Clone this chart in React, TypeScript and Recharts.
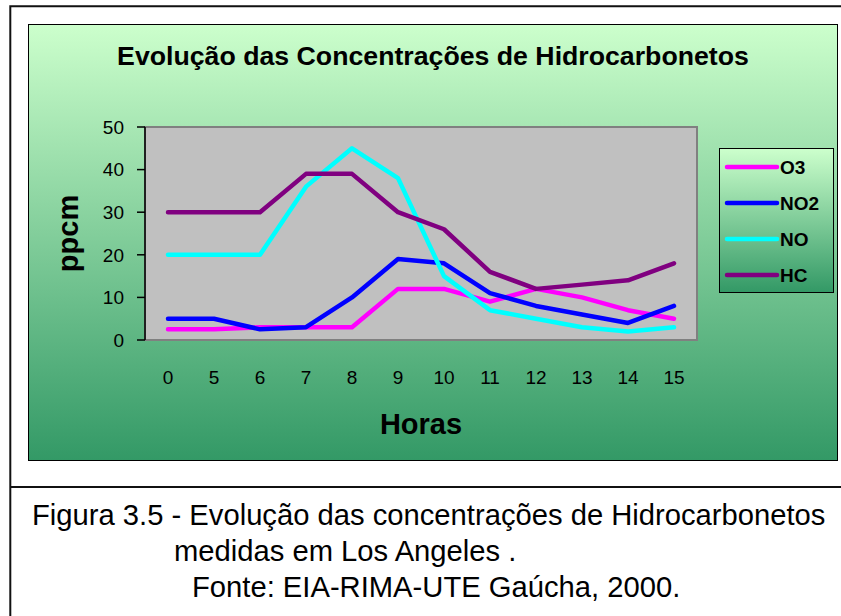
import React from 'react';
import { LineChart, Line, XAxis, YAxis, ReferenceArea, Legend, Label } from 'recharts';

const HOURS = ['0', '5', '6', '7', '8', '9', '10', '11', '12', '13', '14', '15'];
const O3 = [2.5, 2.5, 3, 3, 3, 12, 12, 9, 12, 10, 7, 5];
const NO2 = [5, 5, 2.5, 3, 10, 19, 18, 11, 8, 6, 4, 8];
const NO = [20, 20, 20, 36, 45, 38, 15, 7, 5, 3, 2, 3];
const HC = [30, 30, 30, 39, 39, 30, 26, 16, 12, 13, 14, 18];
const Y_TICKS = [0, 10, 20, 30, 40, 50];

const SERIES = [
  { name: 'O3', values: O3, color: '#FF00FF' },
  { name: 'NO2', values: NO2, color: '#0000FF' },
  { name: 'NO', values: NO, color: '#00FFFF' },
  { name: 'HC', values: HC, color: '#800080' },
];
const SERIES_NAMES = SERIES.map((s) => s.name);

const data = HOURS.map((h, i) => {
  const row: Record<string, number | string> = { pos: i + 0.5, hour: h };
  SERIES.forEach((s) => {
    row[s.name] = s.values[i];
  });
  return row;
});

const EDGE_TICKS = HOURS.map((_, i) => i).concat([HOURS.length]);
const CENTER_TICKS = HOURS.map((_, i) => i + 0.5);
const FONT = '"Liberation Sans", Arial, sans-serif';

const PpcmLabel = (props: any) => {
  const vb = props.viewBox || {};
  const x = (vb.x || 0) + 50;
  const y = (vb.y || 0) + (vb.height || 0) / 2;
  return (
    <text
      x={x}
      y={y}
      transform={`rotate(-90, ${x}, ${y})`}
      textAnchor="middle"
      fontSize={29}
      fontWeight="bold"
      fontFamily={FONT}
      fill="#000"
    >
      ppcm
    </text>
  );
};

const LegendBox = (props: any) => {
  const payload = [...(props.payload || [])].sort(
    (a: any, b: any) => SERIES_NAMES.indexOf(a.value) - SERIES_NAMES.indexOf(b.value)
  );
  return (
    <div
      style={{
        width: 115,
        height: 145,
        boxSizing: 'border-box',
        border: '1px solid #000',
        background: 'linear-gradient(#CCFFCC, #339966)',
        fontFamily: FONT,
      }}
    >
      {payload.map((p: any) => (
        <div key={p.value} style={{ display: 'flex', alignItems: 'center', height: 36 }}>
          <svg width={60} height={10} style={{ display: 'block' }}>
            <line x1={7} y1={5} x2={57} y2={5} stroke={p.color} strokeWidth={4.5} strokeLinecap="round" />
          </svg>
          <span style={{ fontSize: 19, fontWeight: 'bold', color: '#000', lineHeight: '19px' }}>{p.value}</span>
        </div>
      ))}
    </div>
  );
};

export default function App() {
  return (
    <div
      style={{
        position: 'absolute',
        left: 0,
        top: 0,
        width: 841,
        height: 616,
        overflow: 'hidden',
        background: '#fff',
        fontFamily: FONT,
      }}
    >
      <svg width={841} height={616} style={{ position: 'absolute', left: 0, top: 0 }}>
        <defs>
          <linearGradient id="bgGrad" x1="0" y1="0" x2="0" y2="1">
            <stop offset="0" stopColor="#CCFFCC" />
            <stop offset="1" stopColor="#339966" />
          </linearGradient>
        </defs>
        <rect x={0} y={0} width={841} height={616} fill="#fff" />
        <path d="M10.3 620 V6.3 H845" stroke="#111" strokeWidth={2} fill="none" />
        <line x1={10} y1={487} x2={845} y2={487} stroke="#111" strokeWidth={2} />
        <rect x={28.5} y={24.5} width={809} height={436} fill="url(#bgGrad)" stroke="#000" strokeWidth={1} />
        <text x={433} y={65} textAnchor="middle" fontSize={26.7} fontWeight="bold" fontFamily={FONT} fill="#000">
          Evolução das Concentrações de Hidrocarbonetos
        </text>
        <text x={32} y={525} fontSize={29.2} fontFamily={FONT} fill="#000">
          Figura 3.5 - Evolução das concentrações de Hidrocarbonetos
        </text>
        <text x={174} y={561} fontSize={29.2} fontFamily={FONT} fill="#000">
          medidas em Los Angeles .
        </text>
        <text x={192} y={597} fontSize={29.2} fontFamily={FONT} fill="#000">
          Fonte: EIA-RIMA-UTE Gaúcha, 2000.
        </text>
      </svg>
      <div style={{ position: 'absolute', left: 28, top: 24 }}>
        <LineChart width={810} height={437} data={data} margin={{ top: 103, right: 141, bottom: 0, left: 0 }}>
          <XAxis
            xAxisId="edges"
            dataKey="pos"
            type="number"
            domain={[0, 12]}
            ticks={EDGE_TICKS}
            interval={0}
            tickFormatter={() => ''}
            height={0}
            axisLine={{ stroke: '#000', strokeWidth: 1.5 }}
            tickLine={{ stroke: '#000', strokeWidth: 1.5 }}
            tickSize={7}
          />
          <XAxis
            xAxisId="hours"
            dataKey="pos"
            type="number"
            domain={[0, 12]}
            ticks={CENTER_TICKS}
            interval={0}
            tickFormatter={(v: number) => HOURS[Math.floor(v)]}
            height={121}
            axisLine={false}
            tickLine={false}
            tickSize={0}
            tickMargin={31}
            tick={{ fill: '#000', fontSize: 19, fontFamily: FONT }}
          >
            <Label
              value="Horas"
              position="insideBottom"
              offset={27}
              style={{ fontSize: 29, fontWeight: 'bold', fill: '#000', fontFamily: FONT }}
            />
          </XAxis>
          <YAxis
            type="number"
            domain={[0, 50]}
            ticks={Y_TICKS}
            interval={0}
            width={117}
            tickSize={8}
            tickMargin={13}
            axisLine={{ stroke: '#000', strokeWidth: 1.5 }}
            tickLine={{ stroke: '#000', strokeWidth: 1.5 }}
            tick={{ fill: '#000', fontSize: 19, fontFamily: FONT }}
            label={{ content: PpcmLabel }}
          />
          <ReferenceArea
            xAxisId="hours"
            x1={0}
            x2={12}
            y1={0}
            y2={50}
            fill="#C0C0C0"
            fillOpacity={1}
            stroke="#808080"
            strokeWidth={2}
          />
          {SERIES.map((s) => (
            <Line
              key={s.name}
              xAxisId="hours"
              type="linear"
              dataKey={s.name}
              name={s.name}
              stroke={s.color}
              strokeWidth={4.5}
              strokeLinecap="round"
              strokeLinejoin="round"
              dot={false}
              activeDot={false}
              isAnimationActive={false}
            />
          ))}
          <Legend
            layout="vertical"
            align="center"
            verticalAlign="middle"
            wrapperStyle={{ left: 691, top: 124, width: 115, height: 145 }}
            content={LegendBox}
          />
        </LineChart>
      </div>
    </div>
  );
}
